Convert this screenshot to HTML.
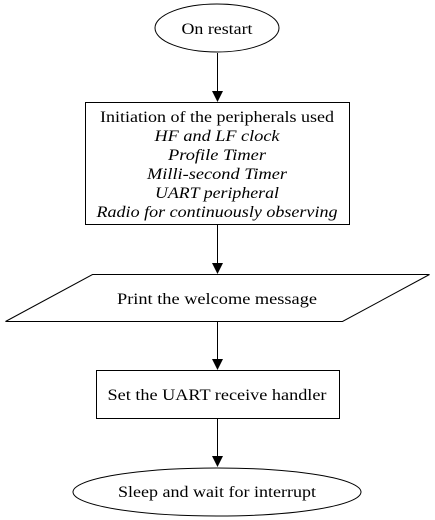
<!DOCTYPE html>
<html><head><style>body{margin:0;background:#fff}svg{display:block}text{font-family:"Liberation Serif",serif;font-size:16px;text-anchor:middle}</style></head>
<body>
<svg width="435" height="520" viewBox="0 0 435 520">
<g fill="none" stroke="#000" stroke-width="1">
<ellipse cx="217" cy="28" rx="62" ry="24"/>
<rect x="85.5" y="102.5" width="264" height="122"/>
<polygon points="92.5,274.5 429.5,274.5 342.5,321.5 5.5,321.5"/>
<rect x="96.5" y="370.5" width="243" height="48"/>
<ellipse cx="217" cy="492" rx="144" ry="24"/>
<line x1="217.5" y1="53" x2="217.5" y2="92"/>
<line x1="217.5" y1="225" x2="217.5" y2="264"/>
<line x1="217.5" y1="322" x2="217.5" y2="360"/>
<line x1="217.5" y1="419" x2="217.5" y2="457"/>
</g>
<g fill="#000">
<polygon points="212,91 223,91 217.5,102"/>
<polygon points="212,263 223,263 217.5,274"/>
<polygon points="212,359 223,359 217.5,370"/>
<polygon points="212,456 223,456 217.5,467"/>
</g>
<text x="217" y="34" textLength="71" lengthAdjust="spacingAndGlyphs">On restart</text>
<text x="217" y="122" textLength="234" lengthAdjust="spacingAndGlyphs">Initiation of the peripherals used</text>
<g font-style="italic">
<text x="217" y="141" textLength="125" lengthAdjust="spacingAndGlyphs">HF and LF clock</text>
<text x="217" y="160" textLength="98" lengthAdjust="spacingAndGlyphs">Profile Timer</text>
<text x="217" y="179" textLength="140" lengthAdjust="spacingAndGlyphs">Milli-second Timer</text>
<text x="217" y="198" textLength="124" lengthAdjust="spacingAndGlyphs">UART peripheral</text>
<text x="217" y="217" textLength="241" lengthAdjust="spacingAndGlyphs">Radio for continuously observing</text>
</g>
<text x="217" y="304" textLength="200" lengthAdjust="spacingAndGlyphs">Print the welcome message</text>
<text x="217" y="400" textLength="219" lengthAdjust="spacingAndGlyphs">Set the UART receive handler</text>
<text x="217" y="497" textLength="198" lengthAdjust="spacingAndGlyphs">Sleep and wait for interrupt</text>
</svg>
</body></html>
